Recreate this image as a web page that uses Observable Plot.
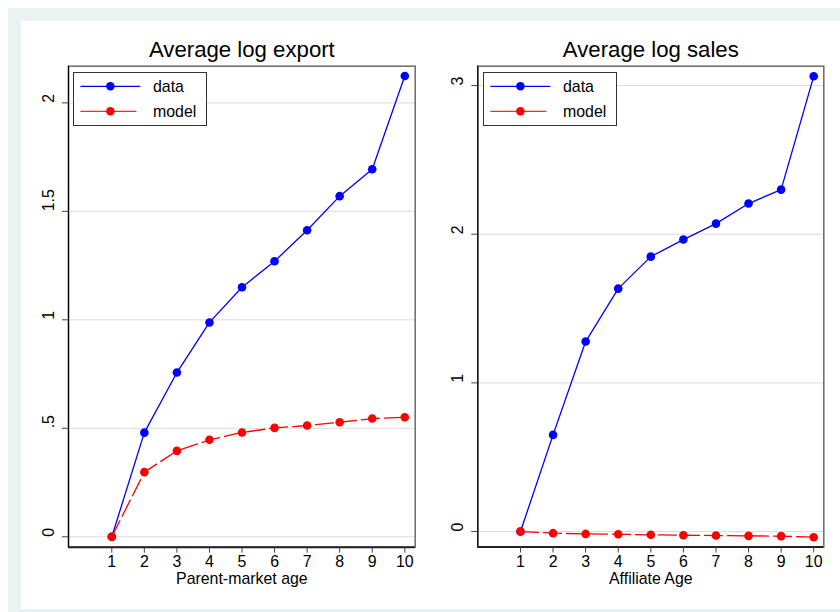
<!DOCTYPE html>
<html><head><meta charset="utf-8">
<script src="https://cdn.jsdelivr.net/npm/d3@7"></script>
<script src="https://cdn.jsdelivr.net/npm/@observablehq/plot@0.6"></script>
<style>
body{margin:0;background:#fff;}
#root{position:relative;width:840px;height:612px;overflow:hidden;font-family:"Liberation Sans",Arial,sans-serif;}
.abs{position:absolute;}
</style></head><body><div id="root">
<div class="abs" style="left:8px;top:8px;width:900px;height:700px;background:#eaf2f3"></div>
<div class="abs" style="left:21px;top:21px;width:900px;height:588px;background:#fff"></div>
</div>
<script>
const ages = [1, 2, 3, 4, 5, 6, 7, 8, 9, 10];
const exportData  = [0, 0.48, 0.757, 0.988, 1.15, 1.27, 1.413, 1.57, 1.694, 2.124];
const exportModel = [0, 0.298, 0.396, 0.447, 0.481, 0.502, 0.513, 0.528, 0.545, 0.551];
const salesData   = [0, 0.65, 1.278, 1.634, 1.849, 1.964, 2.071, 2.206, 2.30, 3.062];
const salesModel  = [0, -0.011, -0.016, -0.018, -0.022, -0.025, -0.027, -0.029, -0.031, -0.038];
const exportYTicks = [0, 0.5, 1, 1.5, 2];
const exportYLabels = ["0", ".5", "1", "1.5", "2"];
const salesYTicks = [0, 1, 2, 3];
const salesYLabels = ["0", "1", "2", "3"];
const seriesNames = ["data", "model"];
const seriesColors = ["blue", "red"];

const FONT = '"Liberation Sans", Arial, sans-serif';
const FS = 15.9;
const root = document.getElementById("root");

function panel(o) {
  const rows = ages.map((a, i) => ({age: a, data: o.data[i], model: o.model[i]}));
  const yt = o.yTicks.map((v, i) => ({v, label: o.yLabels[i]}));
  return Plot.plot({
    width: 420, height: 612,
    marginLeft: o.ml, marginRight: o.mr, marginTop: o.mt, marginBottom: o.mb,
    style: {background: "transparent", fontFamily: FONT, color: "black", fontSize: FS + "px"},
    x: {domain: o.xDomain},
    y: {domain: o.yDomain},
    marks: [
      Plot.gridY(o.yTicks, {stroke: "#dcdcdc", strokeOpacity: 1, strokeWidth: 1}),
      Plot.frame({stroke: "#6a6a6a", strokeWidth: 1.5}),
      Plot.ruleX([o.xDomain[0]], {stroke: "black", strokeWidth: 1.2}),
      Plot.ruleY([o.yDomain[0]], {stroke: "#222", strokeWidth: 2}),
      Plot.axisY({ticks: o.yTicks, tickSize: 6, tickFormat: () => "", label: null, stroke: "#444"}),
      Plot.axisX({ticks: ages, tickSize: 6, tickPadding: 3, fontSize: FS, label: null, stroke: "#444", tickFormat: d => String(d)}),
      Plot.text(yt, {y: "v", text: "label", frameAnchor: "left", dx: -19.5, rotate: -90, fontSize: FS, lineAnchor: "middle", fill: "black"}),
      Plot.text([o.title], {text: d => d, frameAnchor: "top", lineAnchor: "middle", dy: -16.3, fontSize: 22.2, fill: "black"}),
      Plot.text([o.xLabel], {text: d => d, frameAnchor: "bottom", lineAnchor: "middle", dy: 32, fontSize: FS, fill: "black"}),
      Plot.line(rows, {x: "age", y: "data", stroke: seriesColors[0], strokeWidth: 1.3}),
      Plot.dot(rows, {x: "age", y: "data", r: 4.3, fill: seriesColors[0], stroke: "none"}),
      Plot.line(rows, {x: "age", y: "model", stroke: seriesColors[1], strokeWidth: 1.3, strokeDasharray: "18,5"}),
      Plot.dot(rows, {x: "age", y: "model", r: 4.3, fill: seriesColors[1], stroke: "none"})
    ]
  });
}

function place(el, left, top) {
  el.style.position = "absolute";
  el.style.left = left + "px";
  el.style.top = top + "px";
  root.appendChild(el);
}

function legend(left, top) {
  const ns = "http://www.w3.org/2000/svg";
  const svg = document.createElementNS(ns, "svg");
  svg.setAttribute("width", 134); svg.setAttribute("height", 54);
  const mk = (tag, attrs) => { const e = document.createElementNS(ns, tag); for (const k in attrs) e.setAttribute(k, attrs[k]); svg.appendChild(e); return e; };
  mk("rect", {x: 0.5, y: 0.5, width: 133, height: 53, fill: "white", stroke: "#333", "stroke-width": 1});
  const rowsY = [14.3, 39.3];
  const lineEnds = [67.4, 63.4];
  seriesNames.forEach((name, i) => {
    mk("line", {x1: 7.4, x2: lineEnds[i], y1: rowsY[i], y2: rowsY[i], stroke: seriesColors[i], "stroke-width": 1.3, "stroke-opacity": i ? 0.85 : 1});
    mk("circle", {cx: 37.4, cy: rowsY[i], r: 4.3, fill: seriesColors[i]});
    const t = mk("text", {x: 80, y: rowsY[i] + 5.6, "font-size": FS, "font-family": FONT, fill: "black"});
    t.textContent = name;
  });
  svg.style.position = "absolute";
  svg.style.left = left + "px";
  svg.style.top = top + "px";
  root.appendChild(svg);
}

const left = panel({
  title: "Average log export", xLabel: "Parent-market age",
  data: exportData, model: exportModel,
  yTicks: exportYTicks, yLabels: exportYLabels,
  xDomain: [-0.33, 10.32], yDomain: [-0.048, 2.169],
  ml: 68, mr: 5.3, mt: 65.7, mb: 65.3
});
place(left, 0, 0);

const right = panel({
  title: "Average log sales", xLabel: "Affiliate Age",
  data: salesData, model: salesModel,
  yTicks: salesYTicks, yLabels: salesYLabels,
  xDomain: [-0.31, 10.31], yDomain: [-0.104, 3.130],
  ml: 57.3, mr: 16.7, mt: 65.7, mb: 65.5
});
place(right, 420, 0);

legend(73.3, 71.7);
legend(483.3, 72.3);
</script>
</body></html>
